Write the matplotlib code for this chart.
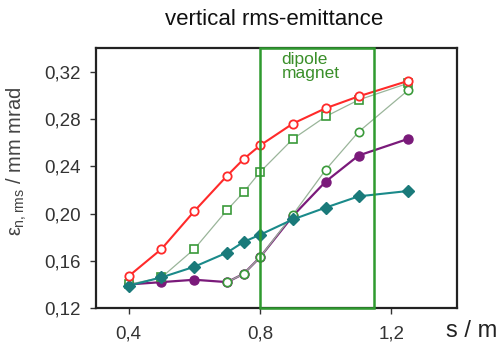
import matplotlib
matplotlib.use("Agg")
import matplotlib.pyplot as plt
from matplotlib.patches import Rectangle

plt.rcParams['font.family'] = ['Liberation Sans', 'DejaVu Sans']
plt.rcParams['mathtext.fontset'] = 'custom'
plt.rcParams['mathtext.rm'] = 'Liberation Sans'
plt.rcParams['mathtext.it'] = 'Liberation Sans'

# data
x_all = [0.4, 0.5, 0.6, 0.7, 0.75, 0.8, 0.9, 1.0, 1.1, 1.25]
red_open = [0.147, 0.170, 0.202, 0.232, 0.246, 0.2575, 0.276, 0.289, 0.299, 0.312]
green_sq = [0.140, 0.146, 0.170, 0.203, 0.218, 0.235, 0.263, 0.282, 0.296, 0.310]
purple = [0.140, 0.142, 0.144, 0.142, 0.149, 0.163, 0.198, 0.227, 0.249, 0.263]
x_gc = [0.7, 0.75, 0.8, 0.9, 1.0, 1.1, 1.25]
green_circ = [0.142, 0.149, 0.163, 0.199, 0.237, 0.269, 0.304]
teal = [0.139, 0.146, 0.155, 0.167, 0.176, 0.182, 0.195, 0.205, 0.2145, 0.219]

dipole_start = 0.8
dipole_end = 1.148

fig = plt.figure(figsize=(4.99, 3.42), dpi=100)
ax = fig.add_axes([0.192, 0.099, 0.724, 0.761])

ax.plot(x_all, purple, '-o', color='#7a1a7a', lw=1.6, ms=6.5, zorder=3)
ax.plot(x_all, green_sq, '-s', color='#9ab59a', lw=0.9, ms=5.5, mfc='white',
        mec='#3a9a3a', mew=1.2, zorder=4)
ax.plot(x_gc, green_circ, '-o', color='#9ab59a', lw=0.9, ms=6, mfc='white',
        mec='#3a9a3a', mew=1.2, zorder=4)
ax.plot(x_all, teal, '-D', color='#1a8a8a', lw=1.5, ms=6, mfc='#1a7a7a',
        mec='#1a7a7a', zorder=5)
ax.plot(x_all, red_open, '-o', color='#ff2a2a', lw=1.5, ms=6, mfc='white',
        mec='#ff2a2a', mew=1.3, zorder=6)

ax.add_patch(Rectangle((dipole_start, 0.12), dipole_end - dipole_start, 0.22,
                       fill=False, ec='#2f9a2f', lw=1.8, zorder=7, clip_on=False))
ax.text(0.865, 0.3365, 'dipole\nmagnet', color='#3a8f2a', fontsize=12.5,
        va='top', ha='left', linespacing=0.95)

ax.set_xlim(0.3, 1.4)
ax.set_ylim(0.12, 0.34)
ax.set_xticks([0.4, 0.8, 1.2])
ax.set_xticklabels(['0,4', '0,8', '1,2'])
ax.set_yticks([0.12, 0.16, 0.20, 0.24, 0.28, 0.32])
ax.set_yticklabels(['0,12', '0,16', '0,20', '0,24', '0,28', '0,32'])
ax.tick_params(labelsize=13.5, colors='#333333', length=4, width=1, pad=7)
ax.tick_params(axis='x', pad=8.5)
for s in ax.spines.values():
    s.set_linewidth(1.6)
    s.set_color('#222222')

fig.text(0.034, 0.53, r'$\varepsilon_{\mathrm{n,rms}}$ / mm mrad', fontsize=14.5,
         color='#444444', rotation=90, ha='center', va='center')
fig.text(0.997, 0.032, 's / m', fontsize=17, color='#222222', ha='right', va='center')
fig.text(0.549, 0.944, 'vertical rms-emittance', fontsize=16, color='#111111',
         ha='center', va='center')

fig.savefig('out.png', dpi=100)
